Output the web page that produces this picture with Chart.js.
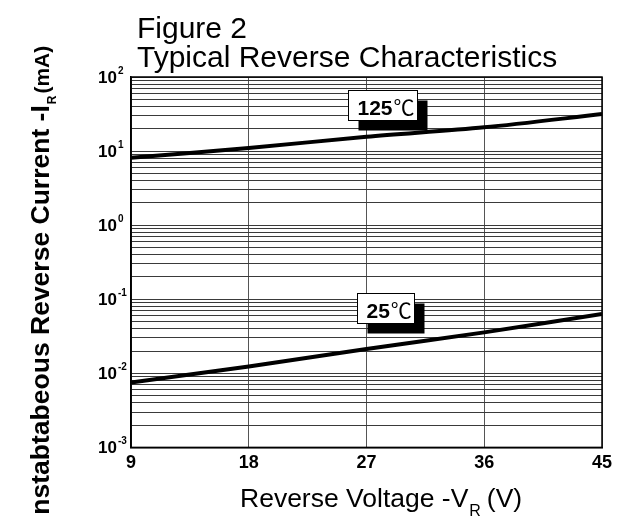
<!DOCTYPE html>
<html>
<head>
<meta charset="utf-8">
<script src="https://cdn.jsdelivr.net/npm/chart.js@4.4.1/dist/chart.umd.min.js"></script>
<style>
    html, body { margin: 0; padding: 0; background: #fff; }
    #wrap { width: 623px; height: 516px; }
</style>
</head>
<body>
<div id="wrap"><canvas id="rcChart" width="623" height="516"></canvas></div>
<script>
// values
const voltage = [9, 18, 27, 36, 45];
const current125 = [8.1, 11.0, 15.6, 20.9, 31.6];
const current25 = [0.0075, 0.0124, 0.0213, 0.0357, 0.0634];

const xTicks = [9, 18, 27, 36, 45];
const yDecades = [-3, -2, -1, 0, 1, 2];
const yMinorSteps = [1, 2, 3, 4, 5, 6, 7, 8, 9];

// temperature tags: text, box left (V), box top (mA)
const tagText = ['125', '25'];
const tagX = [25.6, 26.3];
const tagY = [66.7, 0.123];

const FONT = '"Liberation Sans", Arial, sans-serif';

function toPoints(ys) {
    return voltage.map((v, i) => ({ x: v, y: ys[i] }));
}

const textPlugin = {
    id: 'textPlugin',
    afterDraw(chart) {
        const ctx = chart.ctx;
        const area = chart.chartArea;
        const xs = chart.scales.x;
        const ys = chart.scales.y;
        ctx.save();

        // frame
        ctx.strokeStyle = '#000';
        ctx.lineWidth = 1.5;
        ctx.strokeRect(area.left, area.top, area.right - area.left, area.bottom - area.top);

        // titles
        ctx.fillStyle = '#000';
        ctx.textAlign = 'left';
        ctx.textBaseline = 'alphabetic';
        ctx.font = '30px ' + FONT;
        ctx.fillText('Figure 2', 137, 38);
        ctx.fillText('Typical Reverse Characteristics', 137, 67);

        // y decade labels 10^n
        yDecades.forEach(e => {
            const py = ys.getPixelForValue(Math.pow(10, e));
            ctx.font = 'bold 17px ' + FONT;
            ctx.textAlign = 'right';
            ctx.fillText('10', 117, py + 6);
            ctx.font = 'bold 10px ' + FONT;
            ctx.textAlign = 'left';
            ctx.fillText(e < 0 ? '-' + (-e) : String(e), 118, py - 3);
        });

        // x title with subscript
        ctx.textAlign = 'left';
        ctx.font = '26.5px ' + FONT;
        let tx = 240;
        const part1 = 'Reverse Voltage -V';
        ctx.fillText(part1, tx, 507);
        tx += ctx.measureText(part1).width;
        ctx.font = '16px ' + FONT;
        ctx.fillText('R', tx + 1, 516);
        tx += ctx.measureText('R').width + 7;
        ctx.font = '26.5px ' + FONT;
        ctx.fillText('(V)', tx, 507);

        // y title, rotated
        ctx.save();
        ctx.translate(49, 522);
        ctx.rotate(-Math.PI / 2);
        ctx.font = 'bold 26.5px ' + FONT;
        const ytxt = 'Instabtabeous Reverse Current -I';
        ctx.fillText(ytxt, 0, 0);
        let ty = ctx.measureText(ytxt).width;
        ctx.font = 'bold 12px ' + FONT;
        ctx.fillText('R', ty + 1, 7);
        ty += ctx.measureText('R').width + 3;
        ctx.font = 'bold 21px ' + FONT;
        ctx.fillText('(mA)', ty, 0);
        ctx.restore();

        // temperature tags
        tagText.forEach((t, i) => {
            const bx = Math.round(xs.getPixelForValue(tagX[i])) + 0.5;
            const by = Math.round(ys.getPixelForValue(tagY[i])) + 0.5;
            ctx.font = 'bold 21px ' + FONT;
            const w1 = ctx.measureText(t).width;
            ctx.font = '21px "Noto Sans CJK SC", ' + FONT;
            const w2 = ctx.measureText('℃').width;
            const bw = Math.round(w1 + w2 + 13);
            const bh = 30;
            ctx.fillStyle = '#000';
            ctx.fillRect(bx + 10, by + 10, bw, bh);
            ctx.fillStyle = '#fff';
            ctx.fillRect(bx, by, bw, bh);
            ctx.strokeStyle = '#000';
            ctx.lineWidth = 1;
            ctx.strokeRect(bx, by, bw, bh);
            ctx.fillStyle = '#000';
            ctx.textAlign = 'left';
            ctx.font = 'bold 21px ' + FONT;
            ctx.fillText(t, bx + 9, by + 24);
            ctx.font = '21px "Noto Sans CJK SC", ' + FONT;
            ctx.fillText('℃', bx + 9 + w1 + 1, by + 24);
        });

        ctx.restore();
    }
};

new Chart(document.getElementById('rcChart'), {
    type: 'line',
    data: {
        datasets: [
            {
                label: '125℃',
                data: toPoints(current125),
                borderColor: '#000',
                borderWidth: 4,
                pointRadius: 0,
                tension: 0.3,
                fill: false
            },
            {
                label: '25℃',
                data: toPoints(current25),
                borderColor: '#000',
                borderWidth: 4,
                pointRadius: 0,
                tension: 0.3,
                fill: false
            }
        ]
    },
    options: {
        responsive: false,
        animation: false,
        layout: {
            padding: { left: 131, right: 21, top: 77, bottom: 37 }
        },
        plugins: {
            legend: { display: false },
            tooltip: { enabled: false },
            title: { display: false }
        },
        scales: {
            x: {
                type: 'linear',
                min: 9,
                max: 45,
                afterBuildTicks: (scale) => {
                    scale.ticks = xTicks.map(v => ({ value: v }));
                },
                ticks: {
                    color: '#000',
                    padding: 5,
                    font: { family: FONT, size: 18, weight: 'bold' }
                },
                grid: { color: '#555', lineWidth: 1, drawTicks: false },
                border: { display: true, color: '#000', width: 1.5 }
            },
            y: {
                type: 'logarithmic',
                min: 0.001,
                max: 100,
                afterBuildTicks: (scale) => {
                    const ticks = [];
                    yDecades.forEach(e => {
                        yMinorSteps.forEach(m => {
                            const v = m * Math.pow(10, e);
                            if (v <= 100) ticks.push({ value: v });
                        });
                    });
                    scale.ticks = ticks;
                },
                ticks: { display: false },
                grid: { color: '#3a3a3a', lineWidth: 1, drawTicks: false },
                border: { display: true, color: '#000', width: 1.5 }
            }
        }
    },
    plugins: [textPlugin]
});
</script>
</body>
</html>
